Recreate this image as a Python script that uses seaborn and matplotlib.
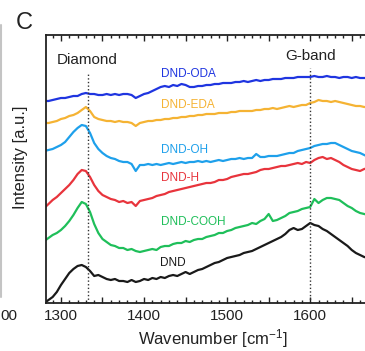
import matplotlib
matplotlib.use("Agg")
import matplotlib.pyplot as plt
from matplotlib.ticker import MultipleLocator, FuncFormatter
from matplotlib.lines import Line2D
import pandas as pd
import seaborn as sns

# Raman spectra of detonation nanodiamond (DND) with different surface groups
wavenumber = list(range(1280, 1671, 5))

dnd = [0, 3, 6, 11, 18, 24, 30, 34, 37, 38,
       36, 32, 27, 28, 26, 24, 23, 24, 22, 22,
       21, 23, 21, 22, 24, 23, 25, 24, 26, 25,
       27, 28, 27, 29, 31, 29, 31, 33, 34, 36,
       38, 40, 41, 43, 45, 46, 47, 48, 50, 51,
       52, 54, 56, 58, 60, 62, 64, 66, 69, 73,
       75, 73, 74, 77, 80, 78, 77, 74, 72, 69,
       66, 63, 60, 57, 53, 50, 48, 46, 45]

dnd_cooh = [62, 65, 68, 70, 73, 77, 82, 88, 95, 101,
            99, 91, 79, 70, 64, 61, 58, 57, 55, 55,
            53, 54, 52, 51, 52, 53, 54, 53, 56, 57,
            57, 59, 60, 60, 62, 61, 63, 64, 64, 66,
            67, 68, 70, 70, 72, 73, 75, 76, 77, 78,
            80, 79, 82, 84, 89, 82, 83, 85, 87, 90,
            91, 92, 94, 95, 96, 104, 100, 103, 105, 105,
            104, 103, 100, 97, 95, 92, 90, 89, 88]

dnd_h = [95, 99, 103, 106, 110, 114, 118, 123, 129, 133,
         132, 126, 118, 112, 108, 106, 104, 103, 101, 102,
         100, 101, 97, 102, 103, 104, 105, 107, 108, 109,
         111, 112, 113, 114, 115, 116, 117, 118, 119, 120,
         120, 121, 123, 123, 124, 126, 127, 128, 129, 129,
         130, 131, 133, 134, 134, 135, 136, 137, 137, 138,
         139, 140, 139, 141, 140, 143, 145, 146, 144, 145,
         143, 141, 138, 136, 134, 133, 132, 134, 135]

dnd_oh = [152, 153, 154, 156, 158, 161, 166, 171, 175, 178,
          177, 170, 160, 154, 150, 147, 145, 144, 142, 141,
          141, 139, 132, 138, 138, 139, 138, 139, 138, 139,
          140, 139, 140, 141, 140, 141, 141, 142, 141, 142,
          141, 142, 143, 142, 143, 144, 144, 145, 144, 145,
          145, 149, 146, 146, 147, 147, 147, 148, 149, 150,
          150, 152, 153, 154, 155, 157, 158, 159, 159, 160,
          160, 158, 156, 154, 152, 151, 150, 148, 146]

dnd_eda = [180, 180, 181, 182, 184, 185, 187, 188, 190, 193,
           196, 192, 186, 184, 183, 182, 182, 181, 182, 181,
           181, 180, 177, 180, 181, 182, 182, 183, 183, 184,
           184, 185, 185, 186, 186, 187, 187, 188, 188, 189,
           189, 189, 190, 190, 190, 191, 191, 192, 192, 192,
           192, 193, 193, 194, 194, 195, 194, 195, 196, 197,
           196, 197, 198, 198, 200, 201, 203, 202, 202, 201,
           202, 201, 200, 199, 198, 197, 197, 196, 196]

dnd_oda = [202, 202, 203, 204, 205, 205, 206, 207, 207, 209,
           210, 209, 209, 208, 208, 209, 208, 209, 208, 209,
           209, 208, 205, 207, 209, 210, 212, 214, 216, 217,
           216, 218, 217, 219, 218, 216, 216, 217, 217, 218,
           218, 219, 219, 220, 220, 220, 221, 221, 222, 221,
           222, 223, 222, 223, 223, 224, 224, 224, 225, 225,
           225, 226, 226, 226, 226, 227, 226, 226, 227, 226,
           226, 225, 226, 226, 225, 226, 225, 225, 225]

sample_names = ["DND", "DND-COOH", "DND-H", "DND-OH", "DND-EDA", "DND-ODA"]
spectra = [dnd, dnd_cooh, dnd_h, dnd_oh, dnd_eda, dnd_oda]

band_names = ["Diamond", "G-band"]
band_positions = [1332, 1600]

palette = {
    "DND": "#1a1a1a",
    "DND-COOH": "#1fbf5a",
    "DND-H": "#e8343c",
    "DND-OH": "#1ea0eb",
    "DND-EDA": "#f5b333",
    "DND-ODA": "#1f35e0",
}

df = pd.concat(
    [pd.DataFrame({"wavenumber": wavenumber, "intensity": s, "sample": n})
     for n, s in zip(sample_names, spectra)],
    ignore_index=True,
)

sns.set_style("ticks")
plt.rcParams["font.family"] = ["Liberation Sans", "DejaVu Sans"]
plt.rcParams["mathtext.default"] = "regular"

W, H = 365, 351
fig = plt.figure(figsize=(W / 100, H / 100), dpi=100)
ax = fig.add_axes([46 / W, 48 / H, 334 / W, 268 / H])

sns.lineplot(data=df, x="wavenumber", y="intensity", hue="sample",
             palette=palette, linewidth=1.6, legend=False, errorbar=None,
             ax=ax)

ax.set_xlim(1282, 1684)
ax.set_ylim(0, 268)
ax.set_yticks([])

# band markers
label_top = [231, 235]
for name, pos, top in zip(band_names, band_positions, label_top):
    ax.plot([pos, pos], [0, top], ls=(0, (1, 1.6)), color="#333333", lw=1.0)
    ax.text(pos, top + 12, name, ha="center", va="center",
            fontsize=11, color="#222222")

# sample labels
label_xy = {
    "DND-ODA": (1421, 229),
    "DND-EDA": (1421, 198),
    "DND-OH": (1421, 153),
    "DND-H": (1421, 125),
    "DND-COOH": (1421, 81),
    "DND": (1419, 40),
}
for name in sample_names:
    x, y = label_xy[name]
    ax.text(x, y, name, ha="left", va="center", fontsize=8.5,
            color=palette[name])

ax.xaxis.set_major_locator(MultipleLocator(50))
ax.xaxis.set_minor_locator(MultipleLocator(10))
ax.xaxis.set_major_formatter(
    FuncFormatter(lambda v, _: f"{v:.0f}" if round(v) % 100 == 0 else ""))
ax.tick_params(axis="x", which="both", direction="in", top=True,
               bottom=True, width=1.0, colors="#222222", labelsize=11, pad=4)
ax.tick_params(axis="x", which="major", length=4)
ax.tick_params(axis="x", which="minor", length=2.2)
for side in ["left", "bottom", "top", "right"]:
    ax.spines[side].set_linewidth(1.3)
    ax.spines[side].set_color("#222222")

ax.set_xlabel("Wavenumber [cm$^{-1}$]", fontsize=12, color="#222222",
              labelpad=3)
ax.set_ylabel("")
fig.text(21 / W, 1 - 157 / H, "Intensity [a.u.]", rotation=90,
         ha="center", va="center", fontsize=12, color="#222222")

fig.text(24 / W, 1 - 23 / H, "C", ha="center", va="center", fontsize=17,
         color="#222222")

# edge of the neighbouring panel
fig.add_artist(Line2D([1.5 / W, 1.5 / W], [1 - 25 / H, 1 - 297 / H],
                      color="#c4c4c4", lw=1.5, transform=fig.transFigure))
fig.text(0.5 / W, 1 - 316 / H, "00", ha="left", va="center", fontsize=11,
         color="#222222")

fig.savefig("out.png", dpi=100)
